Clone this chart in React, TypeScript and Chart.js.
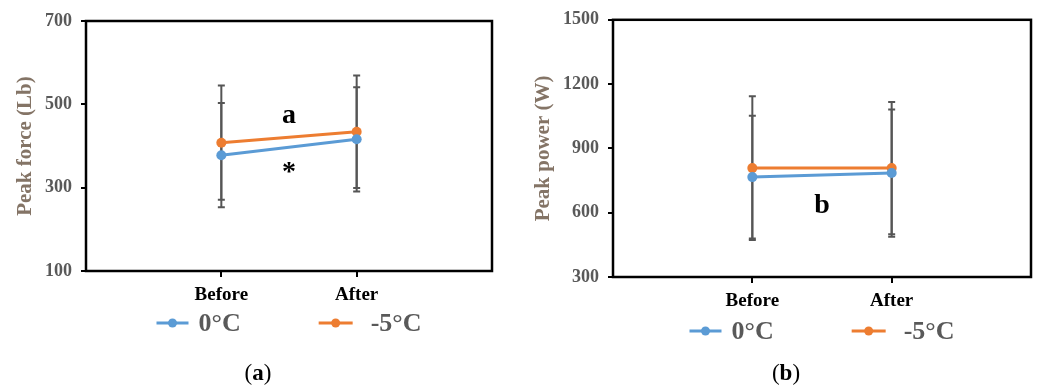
import React, { useEffect, useRef } from 'react';
import { Chart, registerables } from 'chart.js';

Chart.register(...registerables);

// ---------- data ----------
const categories = ['', 'Before', 'After', ''];
const seriesNames = ['0°C', '-5°C'];

const forceZero = [null, 378, 416, null];
const forceMinusFive = [null, 408, 434, null];
const forceZeroSd = [null, 125, 125, null];
const forceMinusFiveSd = [null, 137, 135, null];
const forceTicks = [100, 300, 500, 700];

const powerZero = [null, 766, 785, null];
const powerMinusFive = [null, 808, 808, null];
const powerZeroSd = [null, 286, 297, null];
const powerMinusFiveSd = [null, 335, 309, null];
const powerTicks = [300, 600, 900, 1200, 1500];

const forceNotes = [
  { text: 'a', x: 1.5, y: 455 },
  { text: '*', x: 1.5, y: 318 },
];
const powerNotes = [{ text: 'b', x: 1.5, y: 598 }];

// ---------- styles ----------
const FONT = '"Liberation Serif", "Times New Roman", serif';
const BLUE = '#5B9BD5';
const ORANGE = '#ED7D31';
const TICK_COLOR = '#595959';
const TITLE_COLOR = '#847466';
const ERR_COLOR = '#555555';

const framePlugin = {
  id: 'frame',
  beforeDatasetsDraw(chart: any) {
    const { ctx, chartArea } = chart;
    ctx.save();
    ctx.strokeStyle = '#000';
    ctx.lineWidth = 2.5;
    ctx.strokeRect(chartArea.left, chartArea.top, chartArea.right - chartArea.left, chartArea.bottom - chartArea.top);
    ctx.restore();
  },
};

const errorBarPlugin = {
  id: 'errorBars',
  beforeDatasetsDraw(chart: any, _args: any, opts: any) {
    const { ctx } = chart;
    const y = chart.scales.y;
    const sds: (number | null)[][] = opts.sd || [];
    chart.data.datasets.forEach((ds: any, i: number) => {
      const meta = chart.getDatasetMeta(i);
      const sd = sds[i];
      if (!sd) return;
      meta.data.forEach((pt: any, j: number) => {
        const v = ds.data[j];
        const s = sd[j];
        if (v == null || s == null) return;
        const x = pt.x;
        const top = y.getPixelForValue(v + s);
        const bot = y.getPixelForValue(v - s);
        ctx.save();
        ctx.strokeStyle = ERR_COLOR;
        ctx.lineWidth = 2;
        ctx.beginPath();
        ctx.moveTo(x, top);
        ctx.lineTo(x, bot);
        ctx.moveTo(x - 3.5, top);
        ctx.lineTo(x + 3.5, top);
        ctx.moveTo(x - 3.5, bot);
        ctx.lineTo(x + 3.5, bot);
        ctx.stroke();
        ctx.restore();
      });
    });
  },
};

const notesPlugin = {
  id: 'notes',
  afterDatasetsDraw(chart: any, _args: any, opts: any) {
    const { ctx } = chart;
    const xs = chart.scales.x;
    const ys = chart.scales.y;
    ctx.save();
    ctx.fillStyle = '#000';
    ctx.font = `bold 28px ${FONT}`;
    ctx.textAlign = 'center';
    ctx.textBaseline = 'alphabetic';
    (opts.items || []).forEach((n: any) => {
      ctx.fillText(n.text, xs.getPixelForValue(n.x), ys.getPixelForValue(n.y));
    });
    ctx.restore();
  },
};

const seriesLegendPlugin = {
  id: 'seriesLegend',
  afterDraw(chart: any, _args: any, opts: any) {
    const { ctx, chartArea } = chart;
    const ds = chart.data.datasets;
    ctx.save();
    ctx.font = `bold 26px ${FONT}`;
    ctx.textBaseline = 'middle';
    const w0 = ctx.measureText(ds[0].label).width;
    const w1 = ctx.measureText(ds[1].label).width;
    const seg0 = 32, gap0 = 10, between = 78, seg1 = 34, gap1 = 18;
    const total = seg0 + gap0 + w0 + between + seg1 + gap1 + w1;
    let x = (chartArea.left + chartArea.right) / 2 - total / 2;
    const y = opts.y;
    const drawItem = (color: string, seg: number, gap: number, label: string, w: number) => {
      ctx.strokeStyle = color;
      ctx.lineWidth = 3;
      ctx.beginPath();
      ctx.moveTo(x, y);
      ctx.lineTo(x + seg, y);
      ctx.stroke();
      ctx.fillStyle = color;
      ctx.beginPath();
      ctx.arc(x + seg / 2, y, 4.5, 0, Math.PI * 2);
      ctx.fill();
      ctx.fillStyle = TICK_COLOR;
      ctx.textAlign = 'left';
      ctx.fillText(label, x + seg + gap, y + 1);
      x += seg + gap + w;
    };
    drawItem(ds[0].borderColor, seg0, gap0, ds[0].label, w0);
    x += between;
    drawItem(ds[1].borderColor, seg1, gap1, ds[1].label, w1);
    ctx.restore();
  },
};

type Panel = {
  zero: (number | null)[];
  minusFive: (number | null)[];
  zeroSd: (number | null)[];
  minusFiveSd: (number | null)[];
  ticks: number[];
  title: string;
  notes: any[];
  padding: { left: number; right: number; top: number; bottom: number };
  yWidth: number;
  titlePad: number;
  legendY: number;
};

function makeConfig(p: Panel): any {
  return {
    type: 'line',
    data: {
      labels: categories,
      datasets: [
        {
          label: seriesNames[0],
          data: p.zero,
          borderColor: BLUE,
          backgroundColor: BLUE,
          borderWidth: 3,
          pointRadius: 5,
          pointHoverRadius: 5,
          pointBorderWidth: 0,
        },
        {
          label: seriesNames[1],
          data: p.minusFive,
          borderColor: ORANGE,
          backgroundColor: ORANGE,
          borderWidth: 3,
          pointRadius: 5,
          pointHoverRadius: 5,
          pointBorderWidth: 0,
        },
      ],
    },
    options: {
      responsive: false,
      animation: false,
      devicePixelRatio: 1,
      layout: { padding: p.padding },
      events: [],
      plugins: {
        legend: { display: false },
        tooltip: { enabled: false },
        errorBars: { sd: [p.zeroSd, p.minusFiveSd] },
        notes: { items: p.notes },
        seriesLegend: { y: p.legendY },
      },
      scales: {
        x: {
          type: 'category',
          offset: false,
          grid: {
            drawOnChartArea: false,
            drawTicks: true,
            tickLength: 6,
            color: (c: any) => (categories[c.index] ? '#000' : 'rgba(0,0,0,0)'),
            lineWidth: 2,
          },
          border: { display: false },
          ticks: {
            color: '#000',
            font: { family: FONT, size: 19, weight: 'bold' },
            padding: 7,
            maxRotation: 0,
            autoSkip: false,
          },
          afterFit: (s: any) => {
            s.height = 40;
          },
        },
        y: {
          type: 'linear',
          min: p.ticks[0],
          max: p.ticks[p.ticks.length - 1],
          afterBuildTicks: (s: any) => {
            s.ticks = p.ticks.map((v) => ({ value: v }));
          },
          grid: { drawOnChartArea: false, drawTicks: true, tickLength: 5, color: '#000', lineWidth: 2 },
          border: { display: false },
          ticks: {
            color: TICK_COLOR,
            font: { family: FONT, size: 18, weight: 'bold' },
            padding: 9,
            callback: (v: any) => String(v),
          },
          title: {
            display: true,
            text: p.title,
            color: TITLE_COLOR,
            font: { family: FONT, size: 21, weight: 'bold' },
            padding: { top: p.titlePad, bottom: 0 },
          },
          afterFit: (s: any) => {
            s.width = p.yWidth;
          },
        },
      },
    },
    plugins: [framePlugin, errorBarPlugin, notesPlugin, seriesLegendPlugin],
  };
}

const panels: Panel[] = [
  {
    zero: forceZero,
    minusFive: forceMinusFive,
    zeroSd: forceZeroSd,
    minusFiveSd: forceMinusFiveSd,
    ticks: forceTicks,
    title: 'Peak force (Lb)',
    notes: forceNotes,
    padding: { left: 0, right: 27, top: 21, bottom: 74 },
    yWidth: 86,
    titlePad: 13,
    legendY: 323,
  },
  {
    zero: powerZero,
    minusFive: powerMinusFive,
    zeroSd: powerZeroSd,
    minusFiveSd: powerMinusFiveSd,
    ticks: powerTicks,
    title: 'Peak power (W)',
    notes: powerNotes,
    padding: { left: 0, right: 7, top: 18, bottom: 68 },
    yWidth: 94,
    titlePad: 12,
    legendY: 331,
  },
];

function PanelChart({ panel }: { panel: Panel }) {
  const ref = useRef<HTMLCanvasElement | null>(null);
  useEffect(() => {
    if (!ref.current) return;
    const chart = new Chart(ref.current, makeConfig(panel));
    return () => chart.destroy();
  }, [panel]);
  return <canvas ref={ref} width={519} height={385} style={{ display: 'block', width: 519, height: 385 }} />;
}

const captionStyle: React.CSSProperties = {
  position: 'absolute',
  top: 372,
  transform: 'translate(-50%, -50%)',
  fontFamily: FONT,
  fontSize: 23,
  lineHeight: 1,
  color: '#000',
  whiteSpace: 'nowrap',
};

export default function App() {
  return (
    <div style={{ position: 'absolute', left: 0, top: 0, width: 1038, height: 385, background: '#fff', overflow: 'hidden' }}>
      <div style={{ display: 'flex', flexDirection: 'row' }}>
        <PanelChart panel={panels[0]} />
        <PanelChart panel={panels[1]} />
      </div>
      <div style={{ ...captionStyle, left: 258 }}>
        (<b>a</b>)
      </div>
      <div style={{ ...captionStyle, left: 786 }}>
        (<b>b</b>)
      </div>
    </div>
  );
}
